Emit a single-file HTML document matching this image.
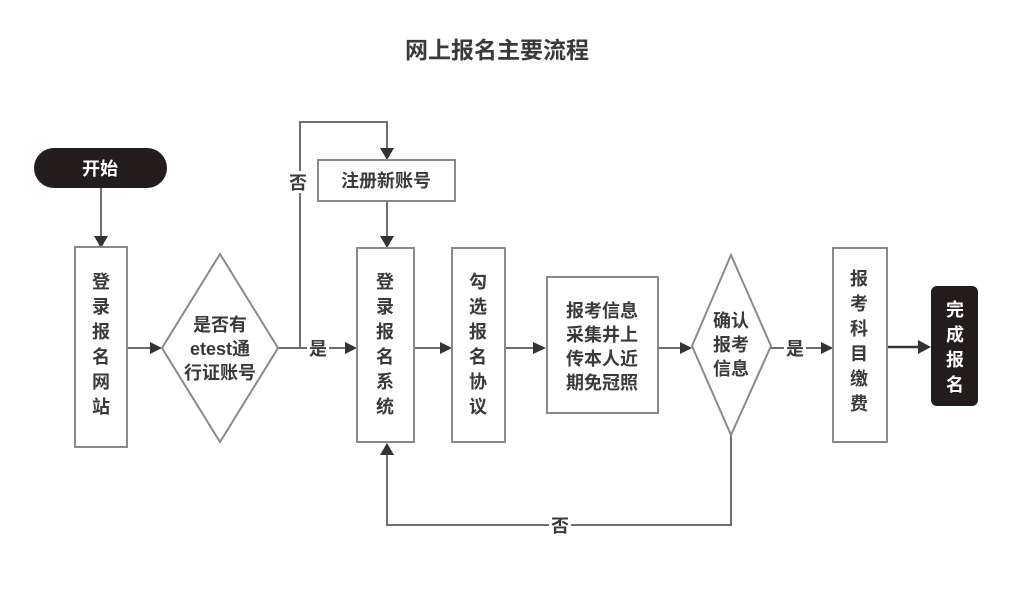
<!DOCTYPE html>
<html><head><meta charset="utf-8"><style>
html,body{margin:0;padding:0;background:#fff;}
svg{display:block;}
text{font-family:"Liberation Sans","Noto Sans CJK SC",sans-serif;font-weight:bold;fill:#3a3a3a;}
</style></head><body>
<svg width="1029" height="591" viewBox="0 0 1029 591">
<defs>
<marker id="a" viewBox="0 0 10 10" refX="10" refY="5" markerWidth="5" markerHeight="5" orient="auto" markerUnits="userSpaceOnUse">
</marker>
</defs>
<rect width="1029" height="591" fill="#fff"/>
<text x="497" y="58" font-size="23" text-anchor="middle" fill="#333">网上报名主要流程</text>

<g stroke="#6e6e6e" stroke-width="2" fill="none">
<!-- start -> box1 -->
<line x1="101" y1="188" x2="101" y2="236"/>
<line x1="127" y1="348" x2="150" y2="348"/>
<polyline points="278,348 300,348 300,122 387,122 387,148"/>
<line x1="387" y1="201" x2="387" y2="236"/>
<line x1="300" y1="348" x2="345" y2="348"/>
<line x1="414" y1="348" x2="440" y2="348"/>
<line x1="505" y1="348" x2="533" y2="348"/>
<line x1="658" y1="348" x2="680" y2="348"/>
<line x1="771" y1="348" x2="821" y2="348"/>
<polyline points="731,435 731,525 387,525 387,455"/>
</g>
<line x1="887" y1="347" x2="918" y2="347" stroke="#333" stroke-width="2.5"/>
<g fill="#333">
<polygon points="94,236 108,236 101,248"/>
<polygon points="380,148 394,148 387,160"/>
<polygon points="380,236 394,236 387,248"/>
<polygon points="380,455 394,455 387,443"/>
<polygon points="150,342 150,354 162,348"/>
<polygon points="345,342 345,354 357,348"/>
<polygon points="440,342 440,354 452,348"/>
<polygon points="533,342 533,354 546,348"/>
<polygon points="680,342 680,354 692,348"/>
<polygon points="821,342 821,354 833,348"/>
<polygon points="918,340 918,354 931,347"/>
</g>

<g stroke="#8a8a8a" stroke-width="2" fill="#fff">
<rect x="75" y="247" width="52" height="200"/>
<polygon points="220,254 278,348 220,442 162,348"/>
<rect x="318" y="160" width="137" height="41"/>
<rect x="357" y="248" width="57" height="194"/>
<rect x="452" y="248" width="53" height="194"/>
<rect x="547" y="277" width="111" height="136"/>
<polygon points="731,255 771,346 731,435 692,346"/>
<rect x="833" y="248" width="54" height="194"/>
</g>
<rect x="34" y="148" width="133" height="40" rx="20" fill="#231c1c"/>
<rect x="931" y="286" width="47" height="120" rx="6" fill="#231c1c"/>

<text x="100" y="175" font-size="18" text-anchor="middle" fill="#fff" style="fill:#fff">开始</text>
<g font-size="18" text-anchor="middle">
<text x="101" y="288">登</text><text x="101" y="313">录</text><text x="101" y="338">报</text><text x="101" y="363">名</text><text x="101" y="388">网</text><text x="101" y="413">站</text>
<text x="220" y="331">是否有</text>
<text x="220" y="355">etest通</text>
<text x="220" y="379">行证账号</text>
<text x="386" y="187">注册新账号</text>
<text x="385" y="288">登</text><text x="385" y="313">录</text><text x="385" y="338">报</text><text x="385" y="363">名</text><text x="385" y="388">系</text><text x="385" y="413">统</text>
<text x="478" y="288">勾</text><text x="478" y="313">选</text><text x="478" y="338">报</text><text x="478" y="363">名</text><text x="478" y="388">协</text><text x="478" y="413">议</text>
<text x="602" y="317">报考信息</text>
<text x="602" y="341">采集井上</text>
<text x="602" y="365">传本人近</text>
<text x="602" y="389">期免冠照</text>
<text x="731" y="327">确认</text>
<text x="731" y="351">报考</text>
<text x="731" y="375">信息</text>
<text x="859" y="285">报</text><text x="859" y="310">考</text><text x="859" y="335">科</text><text x="859" y="360">目</text><text x="859" y="385">缴</text><text x="859" y="410">费</text>
<text x="955" y="316" style="fill:#fff">完</text><text x="955" y="341" style="fill:#fff">成</text><text x="955" y="366" style="fill:#fff">报</text><text x="955" y="391" style="fill:#fff">名</text>
</g>
<rect x="288" y="171" width="22" height="22" fill="#fff"/>
<text x="298" y="189" font-size="18" text-anchor="middle">否</text>
<rect x="307" y="338" width="22" height="20" fill="#fff"/>
<text x="318" y="355" font-size="18" text-anchor="middle">是</text>
<rect x="784" y="338" width="22" height="20" fill="#fff"/>
<text x="795" y="355" font-size="18" text-anchor="middle">是</text>
<rect x="549" y="515" width="22" height="20" fill="#fff"/>
<text x="560" y="532" font-size="18" text-anchor="middle">否</text>
</svg>
</body></html>
